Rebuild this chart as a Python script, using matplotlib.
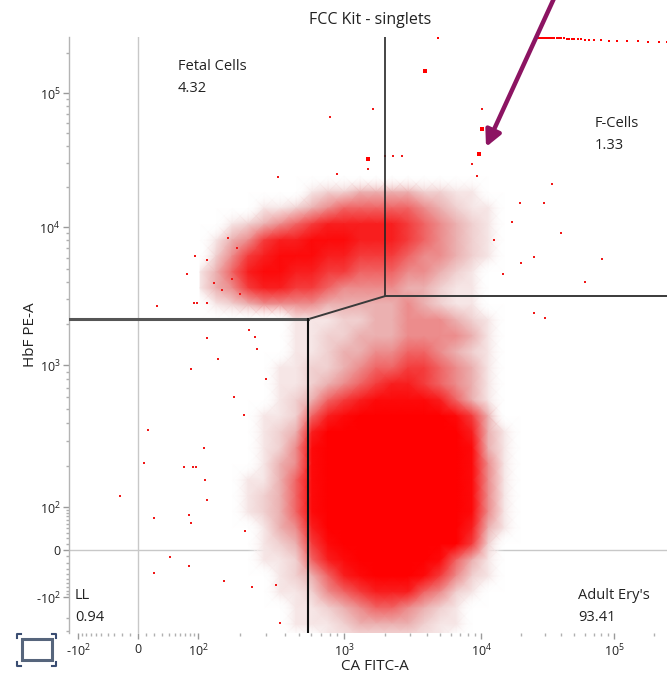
import numpy as np
import matplotlib
matplotlib.use("Agg")
import matplotlib.pyplot as plt
from matplotlib.colors import LinearSegmentedColormap, Normalize
from matplotlib.patches import Rectangle
from matplotlib.lines import Line2D

plt.rcParams['font.family'] = ['Open Sans', 'DejaVu Sans']
plt.rcParams['mathtext.default'] = 'regular'

# ---- data ----
title = "FCC Kit - singlets"
x_label = "CA FITC-A"
y_label = "HbF PE-A"

tick_vals = [-100, 0, 100, 1e3, 1e4, 1e5]
tick_labels = ['-$10^2$', '0', '$10^2$', '$10^3$', '$10^4$', '$10^5$']

quadrants = ["Fetal Cells", "F-Cells", "LL", "Adult Ery's"]
quadrant_pct = ["4.32", "1.33", "0.94", "93.41"]

# gate corners (CA, HbF)
gate_hi = (1990, 3160)
gate_lo = (575, 2150)

# event density (0 = empty .. 9 = solid), rows top -> bottom
density_rows = [
    "000000000000000000000",
    "000000012233332211000",
    "000011234555554321100",
    "001234567777765432100",
    "013467788877765432100",
    "024678887766654432100",
    "135788776655544321000",
    "134677665444433211000",
    "012344443333343211000",
    "000000111223344432100",
    "000000112233344443100",
    "000000112334455432100",
    "000001122345566543100",
    "000001123456776543100",
    "000001235678888753100",
    "000011257899999986300",
    "000012379999999997310",
    "000012489999999998310",
    "000013489999999998410",
    "000113589999999998410",
    "000123589999999998410",
    "000123589999999998410",
    "000013479999999997310",
    "000012368999999996200",
    "000011257899999853100",
    "000001235789998642100",
    "000001124567775421000",
    "000000112345543210000",
    "000000111233332110000",
    "000000001111111100000",
]

# scattered single events (CA, HbF)
event_x = [23, 90, 98, 117, 117, 83, 139, 12, 110, 7, 68, 87, 95, 113, -23,
           117, 20, 78, 83, 42, 78, 20, 153, 216, 240, 350, 370, 800, 360,
           900, 73, 92, 117, 165, 190, 1630, 10200, 2000, 2270, 2650, 1500,
           8500, 9300, 34000, 81000, 25000, 20000, 14600, 19600, 29700,
           25000, 30000, 17000, 12500, 40000, 60000, 130, 150, 175, 200,
           230, 260, 300, 180, 210, 250]
event_y = [2700, 2800, 2800, 2800, 1570, 940, 1100, 355, 265, 210, 195, 195,
           195, 158, 121, 114, 65, 72, 53, -11, -26, -38, -55, 35, -70, -64,
           -230, 66000, 23600, 25000, 4600, 6200, 5800, 8300, 7000, 76000,
           76000, 34000, 34000, 34000, 27000, 29500, 24000, 21000, 5900,
           6100, 5500, 4600, 15000, 15000, 2400, 2200, 11000, 8000, 9000,
           4000, 3900, 3500, 4200, 3300, 1800, 1300, 800, 600, 450, 1600]
big_x = [3900, 10200, 9700, 1500]
big_y = [146000, 54000, 35000, 32000]

# events piled up at the top of the scale
top_x = [4800, 26000, 27000, 28000, 29000, 30000, 31000, 32000, 33000, 34000,
         35500, 37000, 38500, 40000, 42000, 44000, 46000, 48000, 50000,
         53000, 56000, 60000, 65000, 70000, 80000, 92000, 105000, 125000,
         150000, 180000, 215000, 250000]
top_y = [258000, 258000, 258000, 258000, 258000, 258000, 258000, 257000,
         257000, 257000, 257000, 257000, 256000, 256000, 256000, 255000,
         255000, 255000, 254000, 254000, 253000, 251000, 250000, 249000,
         247000, 246000, 245000, 244000, 243000, 242000, 241000, 240000]

# ---- biexponential-like display scale ----
anchor_vals = np.array([-1000, -100, 0, 100, 1e3, 1e4, 1e5, 1e6])
anchor_u = np.arcsinh(anchor_vals / 50)
x_anchor = np.array([-15, 78, 138, 198, 344, 481, 614, 747], float)
y_anchor = -np.array([670, 597, 550, 507, 365, 227, 93, -41], float)


def make_scale(pos):
    def fwd(v):
        return np.interp(np.arcsinh(np.asarray(v, float) / 50), anchor_u, pos)

    def inv(t):
        return 50 * np.sinh(np.interp(np.asarray(t, float), pos, anchor_u))
    return fwd, inv


x_fwd, x_inv = make_scale(x_anchor)
y_fwd, y_inv = make_scale(y_anchor)

W, H = 667, 685
left_px, right_px, top_px, bot_px = 69, 670, 37, 633

fig = plt.figure(figsize=(W / 100, H / 100), dpi=100)
ax = fig.add_axes([left_px / W, 1 - bot_px / H,
                   (right_px - left_px) / W, (bot_px - top_px) / H])
ax.set_xscale('function', functions=(x_fwd, x_inv))
ax.set_yscale('function', functions=(y_fwd, y_inv))
xmin, xmax = float(x_inv(left_px)), 262144
ymin, ymax = float(y_inv(-bot_px)), 262144
ax.set_xlim(xmin, xmax)
ax.set_ylim(ymin, ymax)

# zero lines
ax.axvline(0, color='#c8c8c8', lw=1, zorder=1)
ax.axhline(0, color='#c8c8c8', lw=1, zorder=1)

# density of events
dens = np.array([[int(c) for c in r] for r in density_rows], float)
gx = x_inv(np.arange(200, 521, 16))
gy = y_inv(-np.arange(176, 641, 16))
GX, GY = np.meshgrid(gx, gy)
cmap = LinearSegmentedColormap.from_list('ev', [
    (1, 1, 1, 0), '#f6e6e6', '#f0cfcf', '#ebb0b0', '#ec8c8c',
    '#f06464', '#f43c3c', '#f81e1e', '#fd0a0a', '#ff0000'])
ax.pcolormesh(GX, GY, dens, shading='gouraud', cmap=cmap,
              norm=Normalize(0, 9), zorder=2, rasterized=True)

ax.scatter(event_x, event_y, s=3, marker='s', color='#f01818',
           linewidths=0, zorder=3)
ax.scatter(big_x, big_y, s=7, marker='s', color='#ff0000',
           linewidths=0, zorder=3)
ax.scatter(top_x, top_y, s=3, marker='s', color='#ff0000',
           linewidths=0, zorder=3, clip_on=False)

# gates
gc = '#262626'
ax.plot([gate_hi[0], gate_hi[0]], [gate_hi[1], ymax], color=gc, lw=1.2, zorder=4)
ax.plot([gate_hi[0], xmax], [gate_hi[1], gate_hi[1]], color='#3a3a3a', lw=1.4, zorder=4)
ax.plot([gate_hi[0], gate_lo[0]], [gate_hi[1], gate_lo[1]], color='#3a3a3a', lw=1.4, zorder=4)
ax.plot([gate_lo[0], xmin], [gate_lo[1], gate_lo[1]], color='#555555', lw=2.2, zorder=4)
ax.plot([gate_lo[0], gate_lo[0]], [gate_lo[1], ymin], color='#111111', lw=1.5, zorder=4)

# axes decoration
for s in ['top', 'right', 'bottom']:
    ax.spines[s].set_visible(False)
ax.spines['left'].set_color('#b4b4b4')
ax.spines['left'].set_linewidth(1)

minor = ([v for v in range(-90, 100, 10) if v != 0]
         + [k * 10 ** d for d in (2, 3, 4) for k in range(2, 10)] + [2e5])
ax.set_xticks(tick_vals)
ax.set_xticklabels(tick_labels)
ax.set_xticks(minor, minor=True)
ax.set_yticks(tick_vals)
ax.set_yticklabels(tick_labels)
ax.set_yticks(minor + [-200, -300], minor=True)
ax.tick_params(which='major', length=4, color='#9a9a9a', width=1,
               labelsize=9, labelcolor='#222222', pad=3)
ax.tick_params(which='minor', length=2.5, color='#b0b0b0', width=1)
ax.tick_params(axis='y', pad=2)

fig.text(370 / W, 1 - 20 / H, title, ha='center', va='center',
         fontsize=11.5, color='#222222')
fig.text(375 / W, 1 - 667 / H, x_label, ha='center', va='center',
         fontsize=11, color='#222222')
fig.text(30 / W, 1 - 335 / H, y_label, ha='center', va='center',
         rotation=90, fontsize=11, color='#222222')

label_pos = [(178, 59), (595, 116), (75, 588), (578, 588)]
for name, pct, (px, py) in zip(quadrants, quadrant_pct, label_pos):
    fig.text(px / W, 1 - py / H, name + "\n" + pct, ha='left', va='top',
             fontsize=10.5, color='#222222', linespacing=1.6)

# arrow
ax.annotate('', xy=(486 / W, 1 - 147 / H), xycoords='figure fraction',
            xytext=(556 / W, 1 + 6 / H), textcoords='figure fraction',
            arrowprops=dict(arrowstyle='-|>', color='#8c1462', lw=3.2,
                            mutation_scale=24, shrinkA=0, shrinkB=0),
            annotation_clip=False)

# little frame icon
fig.add_artist(Rectangle((22 / W, 1 - 660 / H), 30 / W, 21 / H,
                         transform=fig.transFigure, fill=False,
                         ec='#56657c', lw=2.2))
cc = '#3a4d72'
for cx, cy, dx, dy in [(17, 634, 1, 1), (56, 634, -1, 1),
                       (17, 666, 1, -1), (56, 666, -1, -1)]:
    fig.add_artist(Line2D([(cx + 4 * dx) / W, cx / W, cx / W],
                          [1 - cy / H, 1 - cy / H, 1 - (cy + 4 * dy) / H],
                          transform=fig.transFigure, color=cc, lw=1.5))

fig.savefig('out.png', dpi=100)
